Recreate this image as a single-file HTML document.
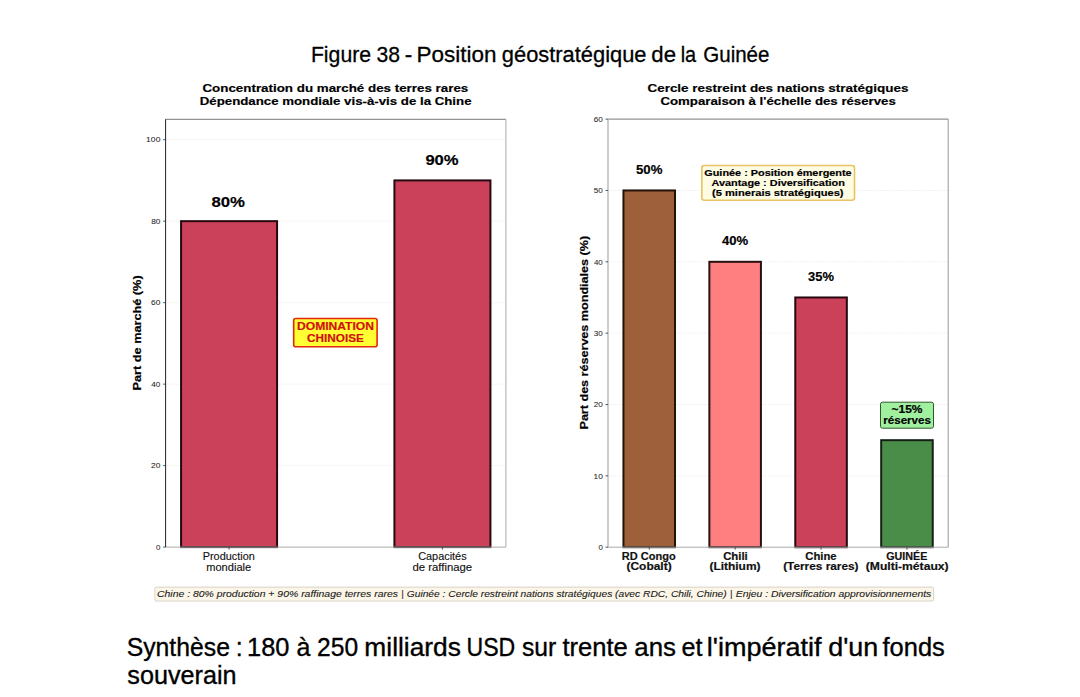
<!DOCTYPE html>
<html><head><meta charset="utf-8"><title>Figure 38</title>
<style>
html,body{margin:0;padding:0;background:#fff;}
body{width:1080px;height:697px;overflow:hidden;}
svg{display:block;font-family:"Liberation Sans", sans-serif;}
</style></head>
<body>
<svg width="1080" height="697" viewBox="0 0 1080 697">
<rect width="1080" height="697" fill="#fff"/>
<text x="310.90" y="61.70" font-size="22.6" font-weight="normal" font-style="normal" fill="#000" stroke="#000" stroke-width="0.3" textLength="60.17" lengthAdjust="spacingAndGlyphs">Figure</text>
<text x="376.56" y="61.70" font-size="22.6" font-weight="normal" font-style="normal" fill="#000" stroke="#000" stroke-width="0.3" textLength="23.51" lengthAdjust="spacingAndGlyphs">38</text>
<text x="404.87" y="61.70" font-size="22.6" font-weight="normal" font-style="normal" fill="#000" stroke="#000" stroke-width="0.3" textLength="7.53" lengthAdjust="spacingAndGlyphs">-</text>
<text x="416.50" y="61.70" font-size="22.6" font-weight="normal" font-style="normal" fill="#000" stroke="#000" stroke-width="0.3" textLength="80.08" lengthAdjust="spacingAndGlyphs">Position</text>
<text x="501.83" y="61.70" font-size="22.6" font-weight="normal" font-style="normal" fill="#000" stroke="#000" stroke-width="0.3" textLength="144.67" lengthAdjust="spacingAndGlyphs">géostratégique</text>
<text x="651.31" y="61.70" font-size="22.6" font-weight="normal" font-style="normal" fill="#000" stroke="#000" stroke-width="0.3" textLength="24.70" lengthAdjust="spacingAndGlyphs">de</text>
<text x="680.70" y="61.70" font-size="22.6" font-weight="normal" font-style="normal" fill="#000" stroke="#000" stroke-width="0.3" textLength="15.52" lengthAdjust="spacingAndGlyphs">la</text>
<text x="703.27" y="61.70" font-size="22.6" font-weight="normal" font-style="normal" fill="#000" stroke="#000" stroke-width="0.3" textLength="66.17" lengthAdjust="spacingAndGlyphs">Guinée</text>
<text x="126.69" y="655.80" font-size="25" font-weight="normal" font-style="normal" fill="#000" stroke="#000" stroke-width="0.35" textLength="103.23" lengthAdjust="spacingAndGlyphs">Synthèse</text>
<text x="235.75" y="655.80" font-size="25" font-weight="normal" font-style="normal" fill="#000" stroke="#000" stroke-width="0.35" textLength="6.95" lengthAdjust="spacingAndGlyphs">:</text>
<text x="246.99" y="655.80" font-size="25" font-weight="normal" font-style="normal" fill="#000" stroke="#000" stroke-width="0.35" textLength="42.43" lengthAdjust="spacingAndGlyphs">180</text>
<text x="296.60" y="655.80" font-size="25" font-weight="normal" font-style="normal" fill="#000" stroke="#000" stroke-width="0.35" textLength="13.90" lengthAdjust="spacingAndGlyphs">à</text>
<text x="317.07" y="655.80" font-size="25" font-weight="normal" font-style="normal" fill="#000" stroke="#000" stroke-width="0.35" textLength="41.02" lengthAdjust="spacingAndGlyphs">250</text>
<text x="364.39" y="655.80" font-size="25" font-weight="normal" font-style="normal" fill="#000" stroke="#000" stroke-width="0.35" textLength="96.53" lengthAdjust="spacingAndGlyphs">milliards</text>
<text x="466.57" y="655.80" font-size="25" font-weight="normal" font-style="normal" fill="#000" stroke="#000" stroke-width="0.35" textLength="48.72" lengthAdjust="spacingAndGlyphs">USD</text>
<text x="521.88" y="655.80" font-size="25" font-weight="normal" font-style="normal" fill="#000" stroke="#000" stroke-width="0.35" textLength="34.24" lengthAdjust="spacingAndGlyphs">sur</text>
<text x="562.42" y="655.80" font-size="25" font-weight="normal" font-style="normal" fill="#000" stroke="#000" stroke-width="0.35" textLength="65.33" lengthAdjust="spacingAndGlyphs">trente</text>
<text x="634.27" y="655.80" font-size="25" font-weight="normal" font-style="normal" fill="#000" stroke="#000" stroke-width="0.35" textLength="41.64" lengthAdjust="spacingAndGlyphs">ans</text>
<text x="681.59" y="655.80" font-size="25" font-weight="normal" font-style="normal" fill="#000" stroke="#000" stroke-width="0.35" textLength="20.98" lengthAdjust="spacingAndGlyphs">et</text>
<text x="706.84" y="655.80" font-size="25" font-weight="normal" font-style="normal" fill="#000" stroke="#000" stroke-width="0.35" textLength="114.80" lengthAdjust="spacingAndGlyphs">l'impératif</text>
<text x="828.22" y="655.80" font-size="25" font-weight="normal" font-style="normal" fill="#000" stroke="#000" stroke-width="0.35" textLength="50.02" lengthAdjust="spacingAndGlyphs">d'un</text>
<text x="882.55" y="655.80" font-size="25" font-weight="normal" font-style="normal" fill="#000" stroke="#000" stroke-width="0.35" textLength="62.25" lengthAdjust="spacingAndGlyphs">fonds</text>
<text x="127.37" y="684.20" font-size="25" font-weight="normal" font-style="normal" fill="#000" stroke="#000" stroke-width="0.35" textLength="109.17" lengthAdjust="spacingAndGlyphs">souverain</text>
<line x1="165.6" x2="505.9" y1="465.61" y2="465.61" stroke="#ececec" stroke-width="0.8" stroke-dasharray="2,1.2"/>
<line x1="165.6" x2="505.9" y1="384.13" y2="384.13" stroke="#ececec" stroke-width="0.8" stroke-dasharray="2,1.2"/>
<line x1="165.6" x2="505.9" y1="302.64" y2="302.64" stroke="#ececec" stroke-width="0.8" stroke-dasharray="2,1.2"/>
<line x1="165.6" x2="505.9" y1="221.16" y2="221.16" stroke="#ececec" stroke-width="0.8" stroke-dasharray="2,1.2"/>
<line x1="165.6" x2="505.9" y1="139.67" y2="139.67" stroke="#ececec" stroke-width="0.8" stroke-dasharray="2,1.2"/>
<rect x="181.07" y="221.16" width="96.01" height="325.94" fill="#cc415a" stroke="#260810" stroke-width="2"/>
<rect x="394.42" y="180.41" width="96.01" height="366.69" fill="#cc415a" stroke="#260810" stroke-width="2"/>
<line x1="165.6" x2="505.9" y1="119.3" y2="119.3" stroke="#777" stroke-width="1"/>
<line x1="165.6" x2="505.9" y1="547.1" y2="547.1" stroke="#aaa" stroke-width="1"/>
<line x1="165.6" x2="165.6" y1="119.3" y2="547.1" stroke="#222" stroke-width="1"/>
<line x1="505.9" x2="505.9" y1="119.3" y2="547.1" stroke="#aaa" stroke-width="1"/>
<line x1="163.1" x2="165.6" y1="547.10" y2="547.10" stroke="#333" stroke-width="0.8"/>
<text x="155.97" y="549.90" font-size="8.1" font-weight="normal" font-style="normal" fill="#222" stroke="#222" stroke-width="0.05" textLength="4.41" lengthAdjust="spacingAndGlyphs">0</text>
<line x1="163.1" x2="165.6" y1="465.61" y2="465.61" stroke="#333" stroke-width="0.8"/>
<text x="151.08" y="468.41" font-size="8.1" font-weight="normal" font-style="normal" fill="#222" stroke="#222" stroke-width="0.05" textLength="9.32" lengthAdjust="spacingAndGlyphs">20</text>
<line x1="163.1" x2="165.6" y1="384.13" y2="384.13" stroke="#333" stroke-width="0.8"/>
<text x="151.34" y="386.93" font-size="8.1" font-weight="normal" font-style="normal" fill="#222" stroke="#222" stroke-width="0.05" textLength="9.06" lengthAdjust="spacingAndGlyphs">40</text>
<line x1="163.1" x2="165.6" y1="302.64" y2="302.64" stroke="#333" stroke-width="0.8"/>
<text x="151.08" y="305.44" font-size="8.1" font-weight="normal" font-style="normal" fill="#222" stroke="#222" stroke-width="0.05" textLength="9.32" lengthAdjust="spacingAndGlyphs">60</text>
<line x1="163.1" x2="165.6" y1="221.16" y2="221.16" stroke="#333" stroke-width="0.8"/>
<text x="151.17" y="223.96" font-size="8.1" font-weight="normal" font-style="normal" fill="#222" stroke="#222" stroke-width="0.05" textLength="9.23" lengthAdjust="spacingAndGlyphs">80</text>
<line x1="163.1" x2="165.6" y1="139.67" y2="139.67" stroke="#333" stroke-width="0.8"/>
<text x="146.11" y="142.47" font-size="8.1" font-weight="normal" font-style="normal" fill="#222" stroke="#222" stroke-width="0.05" textLength="14.30" lengthAdjust="spacingAndGlyphs">100</text>
<line x1="229.07" x2="229.07" y1="547.1" y2="549.6" stroke="#333" stroke-width="0.8"/>
<line x1="442.43" x2="442.43" y1="547.1" y2="549.6" stroke="#333" stroke-width="0.8"/>
<text x="202.73" y="559.80" font-size="10.2" font-weight="normal" font-style="normal" fill="#111" stroke="#111" stroke-width="0.12" textLength="52.04" lengthAdjust="spacingAndGlyphs">Production</text>
<text x="206.28" y="570.90" font-size="10.2" font-weight="normal" font-style="normal" fill="#111" stroke="#111" stroke-width="0.12" textLength="44.87" lengthAdjust="spacingAndGlyphs">mondiale</text>
<text x="418.21" y="560.00" font-size="10.2" font-weight="normal" font-style="normal" fill="#111" stroke="#111" stroke-width="0.12" textLength="48.43" lengthAdjust="spacingAndGlyphs">Capacités</text>
<text x="412.45" y="570.90" font-size="10.2" font-weight="normal" font-style="normal" fill="#111" stroke="#111" stroke-width="0.12" textLength="59.72" lengthAdjust="spacingAndGlyphs">de raffinage</text>
<text x="211.50" y="207.20" font-size="15.39" font-weight="bold" font-style="normal" fill="#000" stroke="#000" stroke-width="0.18" textLength="33.51" lengthAdjust="spacingAndGlyphs">80%</text>
<text x="425.40" y="165.20" font-size="15.39" font-weight="bold" font-style="normal" fill="#000" stroke="#000" stroke-width="0.18" textLength="33.20" lengthAdjust="spacingAndGlyphs">90%</text>
<g transform="translate(140.7,389.6) rotate(-90)">
<text x="-0.83" y="0.00" font-size="10.09" font-weight="bold" font-style="normal" fill="#000" stroke="#000" stroke-width="0.18" textLength="115.04" lengthAdjust="spacingAndGlyphs">Part de marché (%)</text>
</g>
<text x="202.47" y="91.80" font-size="11.75" font-weight="bold" font-style="normal" fill="#000" stroke="#000" stroke-width="0.18" textLength="265.82" lengthAdjust="spacingAndGlyphs">Concentration du marché des terres rares</text>
<text x="199.74" y="105.10" font-size="11.75" font-weight="bold" font-style="normal" fill="#000" stroke="#000" stroke-width="0.18" textLength="271.77" lengthAdjust="spacingAndGlyphs">Dépendance mondiale vis-à-vis de la Chine</text>
<rect x="293.7" y="318.5" width="83.4" height="28.3" rx="2" fill="#ffff33" stroke="#e02a10" stroke-width="1.6"/>
<text x="297.01" y="330.10" font-size="11.23" font-weight="bold" font-style="normal" fill="#d01010" stroke="#d01010" stroke-width="0.18" textLength="77.00" lengthAdjust="spacingAndGlyphs">DOMINATION</text>
<text x="307.13" y="341.80" font-size="11.23" font-weight="bold" font-style="normal" fill="#d01010" stroke="#d01010" stroke-width="0.18" textLength="56.80" lengthAdjust="spacingAndGlyphs">CHINOISE</text>
<line x1="608.0" x2="948.2" y1="475.85" y2="475.85" stroke="#ececec" stroke-width="0.8" stroke-dasharray="2,1.2"/>
<line x1="608.0" x2="948.2" y1="404.50" y2="404.50" stroke="#ececec" stroke-width="0.8" stroke-dasharray="2,1.2"/>
<line x1="608.0" x2="948.2" y1="333.15" y2="333.15" stroke="#ececec" stroke-width="0.8" stroke-dasharray="2,1.2"/>
<line x1="608.0" x2="948.2" y1="261.80" y2="261.80" stroke="#ececec" stroke-width="0.8" stroke-dasharray="2,1.2"/>
<line x1="608.0" x2="948.2" y1="190.45" y2="190.45" stroke="#ececec" stroke-width="0.8" stroke-dasharray="2,1.2"/>
<rect x="623.46" y="190.45" width="51.55" height="356.75" fill="#9e603a" stroke="#221208" stroke-width="2"/>
<rect x="709.37" y="261.80" width="51.55" height="285.40" fill="#ff7f80" stroke="#2a1010" stroke-width="2"/>
<rect x="795.28" y="297.48" width="51.55" height="249.73" fill="#cc415a" stroke="#260810" stroke-width="2"/>
<rect x="881.19" y="440.18" width="51.55" height="107.02" fill="#4a8d48" stroke="#142014" stroke-width="2"/>
<line x1="608.0" x2="948.2" y1="119.1" y2="119.1" stroke="#777" stroke-width="1"/>
<line x1="608.0" x2="948.2" y1="547.2" y2="547.2" stroke="#aaa" stroke-width="1"/>
<line x1="608.0" x2="608.0" y1="119.1" y2="547.2" stroke="#bbb" stroke-width="1.5"/>
<line x1="948.2" x2="948.2" y1="119.1" y2="547.2" stroke="#999" stroke-width="1"/>
<line x1="605.5" x2="608.0" y1="547.20" y2="547.20" stroke="#333" stroke-width="0.8"/>
<text x="598.43" y="550.00" font-size="8.1" font-weight="normal" font-style="normal" fill="#222" stroke="#222" stroke-width="0.05" textLength="4.36" lengthAdjust="spacingAndGlyphs">0</text>
<line x1="605.5" x2="608.0" y1="475.85" y2="475.85" stroke="#333" stroke-width="0.8"/>
<text x="593.47" y="478.65" font-size="8.1" font-weight="normal" font-style="normal" fill="#222" stroke="#222" stroke-width="0.05" textLength="9.33" lengthAdjust="spacingAndGlyphs">10</text>
<line x1="605.5" x2="608.0" y1="404.50" y2="404.50" stroke="#333" stroke-width="0.8"/>
<text x="593.69" y="407.30" font-size="8.1" font-weight="normal" font-style="normal" fill="#222" stroke="#222" stroke-width="0.05" textLength="9.11" lengthAdjust="spacingAndGlyphs">20</text>
<line x1="605.5" x2="608.0" y1="333.15" y2="333.15" stroke="#333" stroke-width="0.8"/>
<text x="593.82" y="335.95" font-size="8.1" font-weight="normal" font-style="normal" fill="#222" stroke="#222" stroke-width="0.05" textLength="8.97" lengthAdjust="spacingAndGlyphs">30</text>
<line x1="605.5" x2="608.0" y1="261.80" y2="261.80" stroke="#333" stroke-width="0.8"/>
<text x="593.94" y="264.60" font-size="8.1" font-weight="normal" font-style="normal" fill="#222" stroke="#222" stroke-width="0.05" textLength="8.85" lengthAdjust="spacingAndGlyphs">40</text>
<line x1="605.5" x2="608.0" y1="190.45" y2="190.45" stroke="#333" stroke-width="0.8"/>
<text x="593.78" y="193.25" font-size="8.1" font-weight="normal" font-style="normal" fill="#222" stroke="#222" stroke-width="0.05" textLength="9.02" lengthAdjust="spacingAndGlyphs">50</text>
<line x1="605.5" x2="608.0" y1="119.10" y2="119.10" stroke="#333" stroke-width="0.8"/>
<text x="593.69" y="121.90" font-size="8.1" font-weight="normal" font-style="normal" fill="#222" stroke="#222" stroke-width="0.05" textLength="9.11" lengthAdjust="spacingAndGlyphs">60</text>
<line x1="649.24" x2="649.24" y1="547.2" y2="549.7" stroke="#333" stroke-width="0.8"/>
<line x1="735.15" x2="735.15" y1="547.2" y2="549.7" stroke="#333" stroke-width="0.8"/>
<line x1="821.05" x2="821.05" y1="547.2" y2="549.7" stroke="#333" stroke-width="0.8"/>
<line x1="906.96" x2="906.96" y1="547.2" y2="549.7" stroke="#333" stroke-width="0.8"/>
<text x="621.88" y="559.70" font-size="10.71" font-weight="bold" font-style="normal" fill="#111" stroke="#111" stroke-width="0.18" textLength="53.81" lengthAdjust="spacingAndGlyphs">RD Congo</text>
<text x="626.46" y="570.30" font-size="10.71" font-weight="bold" font-style="normal" fill="#111" stroke="#111" stroke-width="0.18" textLength="45.21" lengthAdjust="spacingAndGlyphs">(Cobalt)</text>
<text x="723.15" y="559.70" font-size="10.71" font-weight="bold" font-style="normal" fill="#111" stroke="#111" stroke-width="0.18" textLength="24.63" lengthAdjust="spacingAndGlyphs">Chili</text>
<text x="709.46" y="570.30" font-size="10.71" font-weight="bold" font-style="normal" fill="#111" stroke="#111" stroke-width="0.18" textLength="51.01" lengthAdjust="spacingAndGlyphs">(Lithium)</text>
<text x="805.35" y="559.70" font-size="10.71" font-weight="bold" font-style="normal" fill="#111" stroke="#111" stroke-width="0.18" textLength="31.30" lengthAdjust="spacingAndGlyphs">Chine</text>
<text x="783.17" y="570.30" font-size="10.71" font-weight="bold" font-style="normal" fill="#111" stroke="#111" stroke-width="0.18" textLength="75.40" lengthAdjust="spacingAndGlyphs">(Terres rares)</text>
<text x="886.27" y="559.70" font-size="10.71" font-weight="bold" font-style="normal" fill="#111" stroke="#111" stroke-width="0.18" textLength="41.13" lengthAdjust="spacingAndGlyphs">GUINÉE</text>
<text x="865.75" y="570.30" font-size="10.71" font-weight="bold" font-style="normal" fill="#111" stroke="#111" stroke-width="0.18" textLength="82.83" lengthAdjust="spacingAndGlyphs">(Multi-métaux)</text>
<text x="636.00" y="174.00" font-size="12.69" font-weight="bold" font-style="normal" fill="#000" stroke="#000" stroke-width="0.18" textLength="26.41" lengthAdjust="spacingAndGlyphs">50%</text>
<text x="722.00" y="245.20" font-size="12.69" font-weight="bold" font-style="normal" fill="#000" stroke="#000" stroke-width="0.18" textLength="26.21" lengthAdjust="spacingAndGlyphs">40%</text>
<text x="808.04" y="280.90" font-size="12.69" font-weight="bold" font-style="normal" fill="#000" stroke="#000" stroke-width="0.18" textLength="25.87" lengthAdjust="spacingAndGlyphs">35%</text>
<g transform="translate(588.1,428.7) rotate(-90)">
<text x="-0.82" y="0.00" font-size="10.09" font-weight="bold" font-style="normal" fill="#000" stroke="#000" stroke-width="0.18" textLength="193.62" lengthAdjust="spacingAndGlyphs">Part des réserves mondiales (%)</text>
</g>
<text x="647.46" y="91.80" font-size="11.75" font-weight="bold" font-style="normal" fill="#000" stroke="#000" stroke-width="0.18" textLength="260.92" lengthAdjust="spacingAndGlyphs">Cercle restreint des nations stratégiques</text>
<text x="660.47" y="105.10" font-size="11.75" font-weight="bold" font-style="normal" fill="#000" stroke="#000" stroke-width="0.18" textLength="235.31" lengthAdjust="spacingAndGlyphs">Comparaison à l'échelle des réserves</text>
<rect x="701.8" y="165.5" width="152.7" height="34.8" rx="2.5" fill="#fffce4" stroke="#e9c262" stroke-width="1.6"/>
<text x="704.27" y="175.80" font-size="9.15" font-weight="bold" font-style="normal" fill="#000" stroke="#000" stroke-width="0.18" textLength="147.37" lengthAdjust="spacingAndGlyphs">Guinée : Position émergente</text>
<text x="711.48" y="185.80" font-size="9.15" font-weight="bold" font-style="normal" fill="#000" stroke="#000" stroke-width="0.18" textLength="133.38" lengthAdjust="spacingAndGlyphs">Avantage : Diversification</text>
<text x="712.00" y="195.80" font-size="9.15" font-weight="bold" font-style="normal" fill="#000" stroke="#000" stroke-width="0.18" textLength="131.53" lengthAdjust="spacingAndGlyphs">(5 minerais stratégiques)</text>
<rect x="880.5" y="402.2" width="53" height="26" rx="2" fill="#a0f0a0" stroke="#2a5a2a" stroke-width="1"/>
<text x="891.58" y="412.70" font-size="10.19" font-weight="bold" font-style="normal" fill="#000" stroke="#000" stroke-width="0.18" textLength="30.91" lengthAdjust="spacingAndGlyphs">~15%</text>
<text x="883.25" y="424.00" font-size="10.19" font-weight="bold" font-style="normal" fill="#000" stroke="#000" stroke-width="0.18" textLength="47.67" lengthAdjust="spacingAndGlyphs">réserves</text>
<rect x="154.9" y="587.1" width="778.7" height="14" rx="1.5" fill="#fcf6e8" stroke="#bdb9ad" stroke-width="0.6"/>
<text x="157.03" y="596.60" font-size="9.0" font-weight="normal" font-style="italic" fill="#1a1a1a" stroke="#1a1a1a" stroke-width="0.1" textLength="240.98" lengthAdjust="spacingAndGlyphs">Chine : 80% production + 90% raffinage terres rares</text>
<text x="401.19" y="596.60" font-size="9.0" font-weight="normal" font-style="italic" fill="#1a1a1a" stroke="#1a1a1a" stroke-width="0.1" textLength="2.34" lengthAdjust="spacingAndGlyphs">|</text>
<text x="406.74" y="596.60" font-size="9.0" font-weight="normal" font-style="italic" fill="#1a1a1a" stroke="#1a1a1a" stroke-width="0.1" textLength="319.96" lengthAdjust="spacingAndGlyphs">Guinée : Cercle restreint nations stratégiques (avec RDC, Chili, Chine)</text>
<text x="730.10" y="596.60" font-size="9.0" font-weight="normal" font-style="italic" fill="#1a1a1a" stroke="#1a1a1a" stroke-width="0.1" textLength="2.34" lengthAdjust="spacingAndGlyphs">|</text>
<text x="735.79" y="596.60" font-size="9.0" font-weight="normal" font-style="italic" fill="#1a1a1a" stroke="#1a1a1a" stroke-width="0.1" textLength="195.52" lengthAdjust="spacingAndGlyphs">Enjeu : Diversification approvisionnements</text>
</svg>
</body></html>
